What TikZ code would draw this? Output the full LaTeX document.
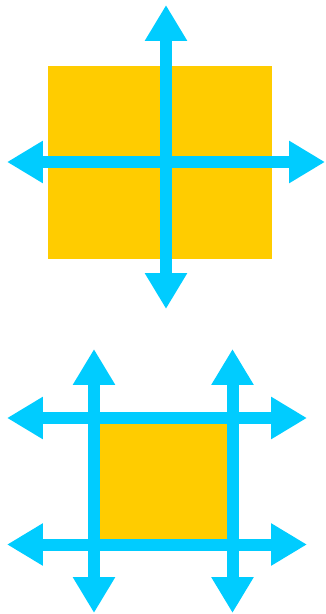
\documentclass[tikz,border=0pt]{standalone}
\usetikzlibrary{arrows.meta}
\definecolor{boxorange}{HTML}{FFCC00}
\definecolor{arrowcyan}{HTML}{00CCFF}

\begin{document}
\begin{tikzpicture}[
  x=0.02cm, y=-0.02cm,
  box/.style={fill=boxorange, draw=none, inner sep=0pt},
  arr/.style={arrowcyan, line width=0.24cm,
              {Triangle[length=0.72cm,width=0.8cm]}-{Triangle[length=0.72cm,width=0.8cm]}},
]
\useasboundingbox (0,0) rectangle (325,614);

% ---- top: one box, one cross ----
\node[box, minimum width=4.48cm, minimum height=3.86cm] (big) at (160,162.5) {};
\coordinate (tN) at (166,5);
\coordinate (tS) at (166,309);
\coordinate (tW) at (7,162);
\coordinate (tE) at (325,162);
\draw[arr] (tN) -- (tS);
\draw[arr] (tW) -- (tE);

% ---- bottom: small box framed by four arrows ----
\node[box, minimum width=2.77cm, minimum height=2.53cm] (small) at (163.25,481.25) {};
\coordinate (lN) at (94,349);   \coordinate (lS) at (94,613);
\coordinate (rN) at (232.5,349);\coordinate (rS) at (232.5,613);
\coordinate (uW) at (7,418);    \coordinate (uE) at (307,418);
\coordinate (dW) at (7,544.5);  \coordinate (dE) at (307,544.5);
\draw[arr] (lN) -- (lS);
\draw[arr] (rN) -- (rS);
\draw[arr] (uW) -- (uE);
\draw[arr] (dW) -- (dE);

\end{tikzpicture}
\end{document}
